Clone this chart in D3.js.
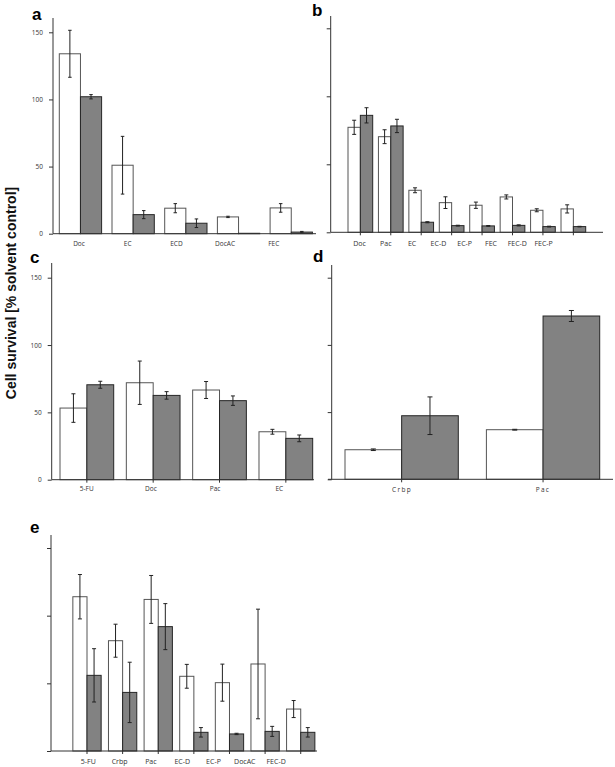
<!DOCTYPE html>
<html><head><meta charset="utf-8">
<script src="https://cdn.jsdelivr.net/npm/d3@7"></script>
<style>
body{margin:0;background:#fff;}
svg{display:block;}
</style></head>
<body>
<svg id="c" width="615" height="767"></svg>
<script>
// ---------- DATA ----------
const yTicks = [0, 50, 100, 150];

const aCats = ["Doc", "EC", "ECD", "DocAC", "FEC"];
const aWhite = [134, 51, 19, 12.5, 19.2];
const aWhiteErr = [17.5, 21.5, 3.4, 0.5, 3.2];
const aDark = [102, 14.2, 7.8, 0.3, 1.2];
const aDarkErr = [1.6, 3, 3.2, 0, 0.5];

const bCats = ["Doc", "Pac", "EC", "EC-D", "EC-P", "FEC", "FEC-D", "FEC-P"];
const bWhite = [77.2, 70.3, 30.9, 21.8, 19.9, 26, 16.2, 17.2];
const bWhiteErr = [5.2, 5.1, 1.8, 4.3, 2.3, 1.5, 1.1, 3];
const bDark = [86, 78.2, 7.4, 4.9, 4.7, 5.1, 4.2, 4.2];
const bDarkErr = [5.6, 4.9, 0.4, 0.3, 0.3, 0.4, 0.3, 0.2];

const cCats = ["5-FU", "Doc", "Pac", "EC"];
const cWhite = [53.2, 72, 66.6, 35.6];
const cWhiteErr = [10.6, 16.1, 6.3, 1.8];
const cDark = [70.5, 62.6, 58.7, 30.7];
const cDarkErr = [2.6, 2.8, 3.5, 2.5];

const dCats = ["Crbp", "Pac"];
const dWhite = [22, 36.9];
const dWhiteErr = [0.6, 0.3];
const dDark = [47.3, 121.5];
const dDarkErr = [14, 4.1];

const eCats = ["5-FU", "Crbp", "Pac", "EC-D", "EC-P", "DocAC", "FEC-D"];
const eWhite = [114, 81.5, 112, 55.2, 50.5, 64.3, 31];
const eWhiteErr = [16.4, 12.2, 17.7, 8.8, 13.7, 40.5, 6.3];
const eDark = [55.9, 43.3, 91.9, 13.8, 12.6, 14.5, 13.8];
const eDarkErr = [19.7, 22.3, 17, 3.5, 0.5, 3.7, 3.5];

const yTitle = "Cell survival [% solvent control]";

// ---------- DRAW ----------
const svg = d3.select("#c");
const FONT = "'Open Sans', 'Liberation Sans', sans-serif";

function panel(o) {
  const g = svg.append("g");
  const n = o.cats.length;
  const y = d3.scaleLinear().domain([0, 150]).range([o.y0, o.y150]);
  const x = d3.scaleBand().domain(o.cats)
    .range([o.L, o.L + (n - 1) * o.step + o.gw])
    .paddingInner(1 - o.gw / o.step).paddingOuter(0);
  const sub = d3.scaleBand().domain(["w", "d"]).range([0, x.bandwidth()]);
  const lab = d3.scalePoint().domain(o.cats).range([o.lab0, o.lab0 + (n - 1) * o.labStep]);

  const rows = o.cats.map((c, i) => ([
    {c, k: "w", v: o.white[i], e: o.whiteErr[i]},
    {c, k: "d", v: o.dark[i], e: o.darkErr[i]}
  ])).flat();

  g.selectAll("rect.bar").data(rows).join("rect")
    .attr("x", d => x(d.c) + sub(d.k))
    .attr("width", sub.bandwidth())
    .attr("y", d => y(d.v))
    .attr("height", d => y(0) - y(d.v))
    .attr("fill", d => d.k === "w" ? "#fff" : "#828282")
    .attr("stroke", d => d.k === "w" ? "#555" : "#262626")
    .attr("stroke-width", 1);

  // error bars
  const cap = o.cap;
  const eb = g.selectAll("g.eb").data(rows.filter(d => d.e > 0)).join("g")
    .attr("stroke", "#222").attr("stroke-width", 1);
  eb.append("line")
    .attr("x1", d => x(d.c) + sub(d.k) + sub.bandwidth() / 2)
    .attr("x2", d => x(d.c) + sub(d.k) + sub.bandwidth() / 2)
    .attr("y1", d => y(d.v - d.e)).attr("y2", d => y(d.v + d.e));
  [1, -1].forEach(s => {
    eb.append("line")
      .attr("x1", d => x(d.c) + sub(d.k) + sub.bandwidth() / 2 - cap / 2)
      .attr("x2", d => x(d.c) + sub(d.k) + sub.bandwidth() / 2 + cap / 2)
      .attr("y1", d => y(d.v + s * d.e)).attr("y2", d => y(d.v + s * d.e));
  });

  // y axis
  const ya = g.append("g").attr("transform", `translate(${o.ax},0)`)
    .call(d3.axisLeft(y).tickValues(yTicks).tickSize(4).tickPadding(o.yLabels ? 6 : 0)
      .tickFormat(o.yLabels ? d3.format("d") : ""));
  ya.select(".domain").remove();
  ya.selectAll("line").attr("stroke", "#333");
  ya.selectAll("text").attr("font-family", FONT).attr("font-size", 6.5).attr("fill", "#333");
  g.append("line").attr("x1", o.ax).attr("x2", o.ax)
    .attr("y1", y(0)).attr("y2", o.top).attr("stroke", "#333");

  // x axis
  if (o.xTicks) {
    const xa = g.append("g").attr("transform", `translate(0,${y(0)})`)
      .call(d3.axisBottom(x).tickSize(3).tickFormat(""));
    xa.select(".domain").remove();
    xa.selectAll("line").attr("stroke", "#333");
  }
  g.append("line").attr("x1", o.xa0).attr("x2", o.xa1)
    .attr("y1", y(0)).attr("y2", y(0)).attr("stroke", "#333");

  g.selectAll("text.cl").data(o.cats).join("text")
    .attr("x", d => lab(d)).attr("y", y(0) + o.labDy)
    .attr("text-anchor", "middle")
    .attr("font-family", FONT).attr("font-size", o.labSize)
    .attr("letter-spacing", o.ls || 0)
    .attr("fill", "#333").text(d => d);

  svg.append("text").attr("x", o.letterX).attr("y", o.letterY)
    .attr("font-family", "'Liberation Sans', Arial, sans-serif")
    .attr("font-weight", "bold").attr("font-size", 17).text(o.letter);
}

panel({letter: "a", letterX: 32, letterY: 20, cats: aCats, white: aWhite, whiteErr: aWhiteErr,
  dark: aDark, darkErr: aDarkErr, ax: 53, y0: 233.7, y150: 32.3, top: 18,
  L: 59.3, step: 52.7, gw: 42.3, lab0: 79, labStep: 48.7, xa0: 53, xa1: 316,
  xTicks: false, yLabels: true, cap: 3.5, labDy: 12, labSize: 6.5});

panel({letter: "b", letterX: 312, letterY: 16, cats: bCats, white: bWhite, whiteErr: bWhiteErr,
  dark: bDark, darkErr: bDarkErr, ax: 330.7, y0: 232.3, y150: 28.3, top: 16,
  L: 348, step: 30.43, gw: 24.7, lab0: 359.5, labStep: 26.3, xa0: 330.7, xa1: 603,
  xTicks: true, yLabels: false, cap: 4, labDy: 14, labSize: 7});

panel({letter: "c", letterX: 30, letterY: 263, cats: cCats, white: cWhite, whiteErr: cWhiteErr,
  dark: cDark, darkErr: cDarkErr, ax: 51.7, y0: 479.7, y150: 277.7, top: 263,
  L: 60, step: 66.33, gw: 53.7, lab0: 86.7, labStep: 64.2, xa0: 51.7, xa1: 314,
  xTicks: true, yLabels: true, cap: 4, labDy: 11.5, labSize: 6.5});

panel({letter: "d", letterX: 313, letterY: 262, cats: dCats, white: dWhite, whiteErr: dWhiteErr,
  dark: dDark, darkErr: dDarkErr, ax: 331.7, y0: 479.3, y150: 277.7, top: 265,
  L: 345, step: 141.4, gw: 113.3, lab0: 402, labStep: 141, xa0: 328, xa1: 613,
  xTicks: true, yLabels: false, cap: 5, labDy: 12.5, labSize: 6.5, ls: 1.3});

panel({letter: "e", letterX: 30, letterY: 533, cats: eCats, white: eWhite, whiteErr: eWhiteErr,
  dark: eDark, darkErr: eDarkErr, ax: 51, y0: 751, y150: 548, top: 535,
  L: 72.85, step: 35.62, gw: 28.3, lab0: 88.3, labStep: 31.3, xa0: 51, xa1: 317,
  xTicks: true, yLabels: false, cap: 4, labDy: 13, labSize: 7});

svg.append("text")
  .attr("transform", "translate(16,293) rotate(-90)")
  .attr("text-anchor", "middle")
  .attr("font-family", "'Liberation Sans', Arial, sans-serif")
  .attr("font-weight", "bold").attr("font-size", 14)
  .attr("fill", "#111")
  .text(yTitle);
</script>
</body></html>
